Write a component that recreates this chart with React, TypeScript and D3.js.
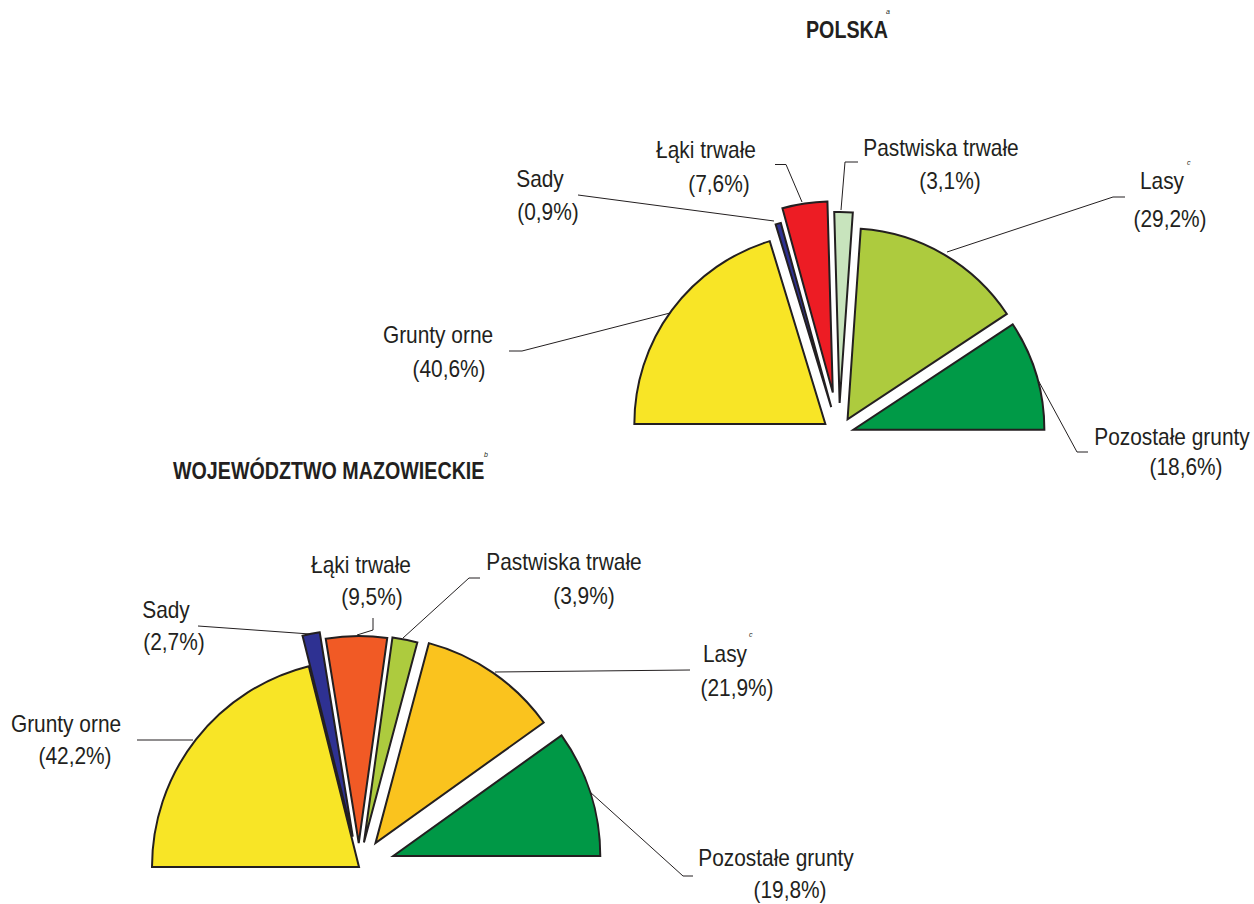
import React from "react";
import * as d3 from "d3";

// ---- data ----
const categories = ["Grunty orne", "Sady", "Łąki trwałe", "Pastwiska trwałe", "Lasy", "Pozostałe grunty"];
const polskaValues = [40.6, 0.9, 7.6, 3.1, 29.2, 18.6];
const mazowieckieValues = [42.2, 2.7, 9.5, 3.9, 21.9, 19.8];
const polskaTitle = "POLSKA";
const mazowieckieTitle = "WOJEWÓDZTWO MAZOWIECKIE";

// ---- styles / layout ----
const polskaColors = ["#f8e526", "#2e3192", "#ed1c24", "#c8e4bd", "#adcb3e", "#009a47"];
const mazowieckieColors = ["#f8e526", "#2e3192", "#f15a25", "#adcb3e", "#fac31e", "#009846"];
const polskaExplode = [17, 28, 42, 31, 17, 15];
const mazowieckieExplode = [0, 31, 24, 25, 29, 36];

type Lbl = { n: [number, number]; v: [number, number]; leader: [number, number][]; sup?: [number, number, string] };

const polskaLabels: Lbl[] = [
  { n: [438, 343], v: [449, 377], leader: [[509, 351], [522, 351], [670, 313]] },
  { n: [540, 187], v: [548, 220], leader: [[578, 195], [774, 221]] },
  { n: [706, 158], v: [719, 192], leader: [[775, 164.5], [786, 164.5], [802, 202]] },
  { n: [941, 156], v: [950, 189], leader: [[858, 162], [845, 162], [841, 210]] },
  { n: [1162, 189], v: [1170, 227], leader: [[1125, 197], [1113, 197], [947, 252]], sup: [1187, 165, "c"] },
  { n: [1172, 445], v: [1186, 475], leader: [[1038, 380], [1077, 452], [1088, 452]] },
];
const mazowieckieLabels: Lbl[] = [
  { n: [66, 732], v: [75, 764], leader: [[137, 740], [193, 740]] },
  { n: [166, 618], v: [174, 650], leader: [[198, 626], [310, 634]] },
  { n: [361, 573], v: [372, 605], leader: [[373, 618], [373, 630], [357, 635]] },
  { n: [564, 570], v: [584, 604], leader: [[480, 578], [469, 578], [403, 638]] },
  { n: [725, 662], v: [737, 696], leader: [[495, 672], [690, 670]], sup: [749, 637, "c"] },
  { n: [776, 866], v: [790, 898], leader: [[590, 792], [683, 876], [693, 876]] },
];

const FONT = "'Liberation Sans', Arial, sans-serif";
const INK = "#231f20";

const fmt = (v: number) => `(${v.toFixed(1).replace(".", ",")}%)`;

function HalfPie({ values, colors, explode, cx, cy, r, labels }: {
  values: number[]; colors: string[]; explode: number[]; cx: number; cy: number; r: number; labels: Lbl[];
}) {
  const pie = d3.pie<number>().sort(null).startAngle(-Math.PI / 2).endAngle(Math.PI / 2);
  const arcs = pie(values);
  const arc = d3.arc<d3.PieArcDatum<number>>().innerRadius(0).outerRadius(r);
  const line = d3.line();
  return (
    <g>
      {labels.map((l, i) => (
        <path key={"l" + i} d={line(l.leader) || ""} fill="none" stroke={INK} strokeWidth={1} />
      ))}
      {arcs.map((a, i) => {
        const mid = (a.startAngle + a.endAngle) / 2;
        const dx = explode[i] * Math.sin(mid);
        const dy = -explode[i] * Math.cos(mid);
        return (
          <path key={i} d={arc(a) || ""} transform={`translate(${cx + dx},${cy + dy})`}
            fill={colors[i]} stroke={INK} strokeWidth={2} strokeLinejoin="miter" />
        );
      })}
      {labels.map((l, i) => (
        <g key={"t" + i} fontFamily={FONT} fontSize={24} fill={INK} textAnchor="middle">
          <text transform={`translate(${l.n[0]},${l.n[1]}) scale(0.87,1)`}>{categories[i]}</text>
          <text transform={`translate(${l.v[0]},${l.v[1]}) scale(0.87,1)`}>{fmt(values[i])}</text>
          {l.sup && (
            <text x={l.sup[0]} y={l.sup[1]} fontSize={7} fontStyle="italic" textAnchor="start">{l.sup[2]}</text>
          )}
        </g>
      ))}
    </g>
  );
}

export default function App() {
  return (
    <svg width={1254} height={904} style={{ position: "absolute", left: 0, top: 0, background: "#fff" }}>
      <rect width={1254} height={904} fill="#fff" />
      <g fontFamily={FONT} fontWeight="bold" fontSize={24} fill={INK}>
        <text transform="translate(806,38) scale(0.82,1)">{polskaTitle}</text>
        <text transform="translate(173,479) scale(0.82,1)">{mazowieckieTitle}</text>
      </g>
      <text x={886} y={14} fontFamily={FONT} fontSize={7} fontStyle="italic" fill={INK}>a</text>
      <text x={484} y={457} fontFamily={FONT} fontSize={7} fontStyle="italic" fill={INK}>b</text>
      <HalfPie values={polskaValues} colors={polskaColors} explode={polskaExplode}
        cx={839} cy={434} r={191} labels={polskaLabels} />
      <HalfPie values={mazowieckieValues} colors={mazowieckieColors} explode={mazowieckieExplode}
        cx={359} cy={867} r={207} labels={mazowieckieLabels} />
    </svg>
  );
}
